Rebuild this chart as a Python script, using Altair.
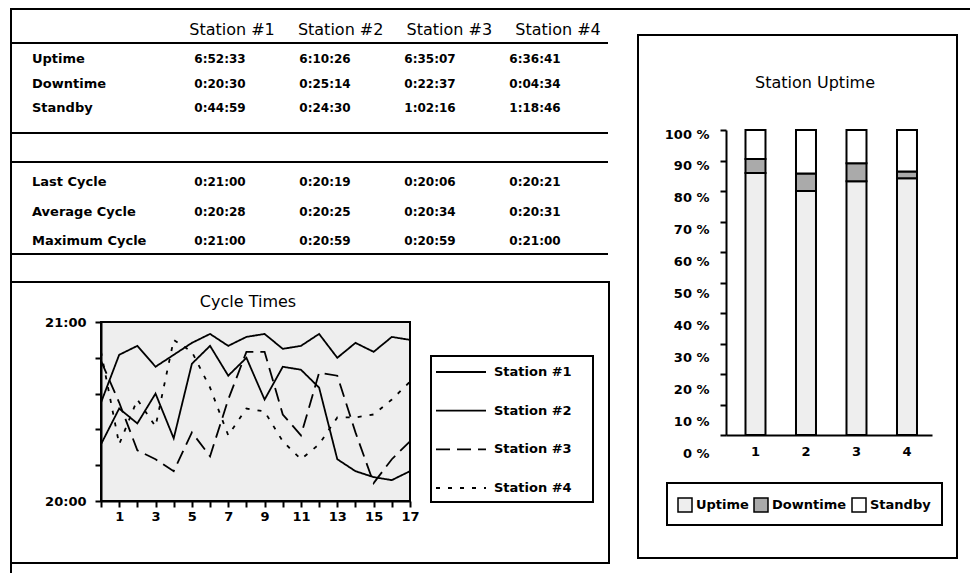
import altair as alt
import pandas as pd

W, H = 962, 565
OFF = 8  # page margin: chart px = page px - 8


def px(v):
    return v - OFF


FONT = "DejaVu Sans"

# ---------------- data ----------------
stations = ["Station #1", "Station #2", "Station #3", "Station #4"]

summary_rows = ["Uptime", "Downtime", "Standby"]
uptime = ["6:52:33", "6:10:26", "6:35:07", "6:36:41"]
downtime = ["0:20:30", "0:25:14", "0:22:37", "0:04:34"]
standby = ["0:44:59", "0:24:30", "1:02:16", "1:18:46"]

cycle_rows = ["Last Cycle", "Average Cycle", "Maximum Cycle"]
last_cycle = ["0:21:00", "0:20:19", "0:20:06", "0:20:21"]
avg_cycle = ["0:20:28", "0:20:25", "0:20:34", "0:20:31"]
max_cycle = ["0:21:00", "0:20:59", "0:20:59", "0:21:00"]

# cycle times (seconds) for cycles 0..17
cycles = list(range(18))
st1_secs = [1233, 1249, 1252, 1245, 1249, 1253, 1256, 1252, 1255, 1256, 1251, 1252, 1256, 1248, 1253, 1250, 1255, 1254]
st2_secs = [1219, 1231, 1226, 1236, 1221, 1246, 1252, 1242, 1248, 1234, 1245, 1244, 1238, 1214, 1210, 1208, 1207, 1210]
st3_secs = [1247, 1233, 1217, 1214, 1210, 1223, 1215, 1234, 1250, 1250, 1229, 1222, 1243, 1242, 1223, 1206, 1214, 1220]
st4_secs = [1250, 1219, 1234, 1225, 1254, 1250, 1238, 1222, 1231, 1230, 1220, 1214, 1219, 1228, 1228, 1229, 1234, 1240]

# station uptime shares (percent)
bar_labels = ["1", "2", "3", "4"]
categories = ["Uptime", "Downtime", "Standby"]
up_pct = [85.9, 80.0, 83.2, 84.2]
down_pct = [4.6, 5.7, 5.9, 2.2]
standby_pct = [9.5, 14.3, 10.9, 13.6]

# ---------------- tables ----------------
sum_df = pd.DataFrame(
    [(r, s, v) for r, vals in zip(summary_rows, [uptime, downtime, standby]) for s, v in zip(stations, vals)],
    columns=["row", "station", "value"],
)
cyc_tab_df = pd.DataFrame(
    [(r, s, v) for r, vals in zip(cycle_rows, [last_cycle, avg_cycle, max_cycle]) for s, v in zip(stations, vals)],
    columns=["row", "station", "value"],
)
line_df = pd.DataFrame(
    [(c, s, v) for s, vals in zip(stations, [st1_secs, st2_secs, st3_secs, st4_secs]) for c, v in zip(cycles, vals)],
    columns=["cycle", "station", "secs"],
)
bar_df = pd.DataFrame(
    [(b, cat, v) for cat, vals in zip(categories, [up_pct, down_pct, standby_pct]) for b, v in zip(bar_labels, vals)],
    columns=["num", "category", "pct"],
)
legend_df = pd.DataFrame({"station": stations})

one = alt.Data(values=[{}])

# ---------------- geometry ----------------
LINE_X = [px(101), px(410)]
LINE_Y = [px(501), px(322)]
BAR_X = [px(726), px(932)]
BAR_Y = [px(435), px(130)]
BAR_LABEL_Y = [px(453), px(134)]
COL_HEAD = [px(232), px(558)]
COL_VAL = [px(220), px(535)]
SUM_Y = [px(59), px(108)]
CYC_Y = [px(182), px(241)]
LEG_Y = [px(372), px(488)]
TABLE_RIGHT = px(608)

DASHES = [[1, 0], [1, 0], [14, 7], [4, 8]]


def hrule(y, x0, x1, w=2):
    return alt.Chart(one).mark_rule(color="black", strokeWidth=w).encode(
        x=alt.value(x0), x2=alt.value(x1), y=alt.value(y)
    )


def vrule(x, y0, y1, w=2):
    return alt.Chart(one).mark_rule(color="black", strokeWidth=w).encode(
        x=alt.value(x), y=alt.value(y0), y2=alt.value(y1)
    )


def box(x0, y0, x1, y1, fill="white", w=2):
    return alt.Chart(one).mark_rect(fill=fill, stroke="black", strokeWidth=w).encode(
        x=alt.value(x0), x2=alt.value(x1), y=alt.value(y0), y2=alt.value(y1)
    )


def label(text, x, y, size=16, weight="normal", align="center"):
    return alt.Chart(one).mark_text(
        text=text, font=FONT, fontSize=size, fontWeight=weight, align=align, baseline="middle", color="black"
    ).encode(x=alt.value(x), y=alt.value(y))


# frames
outer_top = hrule(1, px(10), W)
outer_left = vrule(px(11), 0, H)
table_lines = [hrule(px(43), px(10), TABLE_RIGHT), hrule(px(133), px(10), TABLE_RIGHT),
               hrule(px(162), px(10), TABLE_RIGHT), hrule(px(254), px(10), TABLE_RIGHT)]
cycle_box = box(px(11), px(282), px(609), px(563))
uptime_box = box(px(638), px(35), px(957), px(558))
line_legend_box = box(px(431), px(356), px(593), px(502))
bar_legend_box = box(px(667), px(483), px(942), px(525))
plot_rect = box(LINE_X[0], LINE_Y[1], LINE_X[1], LINE_Y[0], fill="#eeeeee")

# table text
header = alt.Chart(pd.DataFrame({"station": stations})).mark_text(
    font=FONT, fontSize=16, baseline="middle", color="black"
).encode(
    x=alt.X("station:N", scale=alt.Scale(type="point", domain=stations, range=COL_HEAD, padding=0), axis=None),
    y=alt.value(px(30)),
    text="station:N",
)


def table_block(df, rows, yrange):
    ysc = alt.Scale(type="point", domain=rows, range=yrange, padding=0)
    vals = alt.Chart(df).mark_text(
        font=FONT, fontSize=12, fontWeight="bold", baseline="middle", color="black"
    ).encode(
        x=alt.X("station:N", scale=alt.Scale(type="point", domain=stations, range=COL_VAL, padding=0), axis=None),
        y=alt.Y("row:N", scale=ysc, axis=None),
        text="value:N",
    )
    labs = alt.Chart(pd.DataFrame({"row": rows})).mark_text(
        font=FONT, fontSize=13, fontWeight="bold", baseline="middle", align="left", color="black"
    ).encode(
        x=alt.value(px(32)),
        y=alt.Y("row:N", scale=ysc, axis=None),
        text="row:N",
    )
    return [vals, labs]


# line chart
axis_common = dict(
    labelFont=FONT, labelFontSize=13, labelFontWeight="bold", labelColor="black",
    domainColor="black", domainWidth=2, tickColor="black", tickWidth=2, grid=False,
    title=None, labelOverlap=False, labelFlush=False, labelBound=False, zindex=1,
)
dash_scale = alt.Scale(domain=stations, range=DASHES)
lines = alt.Chart(line_df).mark_line(color="black", strokeWidth=1.8).encode(
    x=alt.X("cycle:Q", scale=alt.Scale(domain=[0, 17], range=LINE_X, nice=False, zero=False),
            axis=alt.Axis(orient="bottom", offset=LINE_Y[0] - H, values=cycles, tickSize=6,
                          labelPadding=3,
                          labelExpr="datum.value % 2 == 1 ? datum.label : ''", **axis_common)),
    y=alt.Y("secs:Q", scale=alt.Scale(domain=[1200, 1260], range=LINE_Y, nice=False, zero=False),
            axis=alt.Axis(orient="left", offset=-LINE_X[0], values=[1200, 1212, 1224, 1236, 1248, 1260],
                          tickSize=6, labelPadding=9,
                          labelExpr="datum.value == 1200 ? '20:00' : datum.value == 1260 ? '21:00' : ''",
                          **axis_common)),
    strokeDash=alt.StrokeDash("station:N", scale=dash_scale, legend=None),
)

# legend of the line chart
leg_y = alt.Scale(type="point", domain=stations, range=LEG_Y, padding=0)
leg_lines = alt.Chart(legend_df).mark_rule(color="black", strokeWidth=1.8).encode(
    x=alt.value(px(436)), x2=alt.value(px(486)),
    y=alt.Y("station:N", scale=leg_y, axis=None),
    strokeDash=alt.StrokeDash("station:N", scale=dash_scale, legend=None),
)
leg_text = alt.Chart(legend_df).mark_text(
    font=FONT, fontSize=13, fontWeight="bold", align="left", baseline="middle", color="black"
).encode(
    x=alt.value(px(494)),
    y=alt.Y("station:N", scale=leg_y, axis=None),
    text="station:N",
)

# bar chart
bars = alt.Chart(bar_df).transform_calculate(
    order="indexof(['Uptime','Downtime','Standby'], datum.category)"
).mark_bar(stroke="black", strokeWidth=2).encode(
    x=alt.X("num:N", scale=alt.Scale(type="band", domain=bar_labels, range=BAR_X, paddingInner=0.604,
                                     paddingOuter=0.3416, align=0.565),
            axis=alt.Axis(orient="bottom", offset=BAR_Y[0] - H, ticks=False, labelAngle=0,
                          labelPadding=10, **axis_common)),
    y=alt.Y("pct:Q", stack="zero", scale=alt.Scale(domain=[0, 100], range=BAR_Y, nice=False),
            axis=alt.Axis(orient="left", offset=-BAR_X[0], values=list(range(0, 101, 10)), labels=False,
                          tickSize=6, **axis_common)),
    fill=alt.Fill("category:N",
                  scale=alt.Scale(domain=categories, range=["#eeeeee", "#aaaaaa", "#ffffff"]),
                  legend=alt.Legend(orient="none", direction="horizontal", legendX=px(677), legendY=px(497),
                                    title=None, symbolType="square", symbolSize=196,
                                    symbolStrokeColor="black", symbolStrokeWidth=1.5,
                                    labelFont=FONT, labelFontSize=13, labelFontWeight="bold",
                                    labelColor="black", columnPadding=2, labelOffset=3, padding=0)),
    order=alt.Order("order:Q"),
)

# percentage labels of the bar axis
pct_labels = alt.Chart(bar_df).mark_point(opacity=0).encode(
    y=alt.Y("pct:Q", scale=alt.Scale(domain=[0, 100], range=BAR_LABEL_Y, nice=False),
            axis=alt.Axis(orient="left", offset=-BAR_X[0], values=list(range(0, 101, 10)), domain=False,
                          ticks=False, tickSize=0, labelPadding=17, labelExpr="datum.value + ' %'",
                          **axis_common)),
)

layers = (
    [outer_top, outer_left] + table_lines
    + [cycle_box, uptime_box, line_legend_box, bar_legend_box, plot_rect]
    + [header] + table_block(sum_df, summary_rows, SUM_Y) + table_block(cyc_tab_df, cycle_rows, CYC_Y)
    + [label("Cycle  Times", px(248), px(302)), label("Station Uptime", px(815), px(83))]
    + [lines, leg_lines, leg_text, bars, pct_labels]
)

chart = alt.layer(*layers).resolve_scale(
    x="independent", y="independent", fill="independent", strokeDash="independent"
).resolve_axis(x="independent", y="independent").resolve_legend(
    fill="independent", strokeDash="independent"
).properties(
    width=W, height=H, autosize=alt.AutoSizeParams(type="none"), padding=0, background="white"
).configure_view(stroke="transparent")

chart.save("out.html", embed_options={"renderer": "svg", "actions": False})
